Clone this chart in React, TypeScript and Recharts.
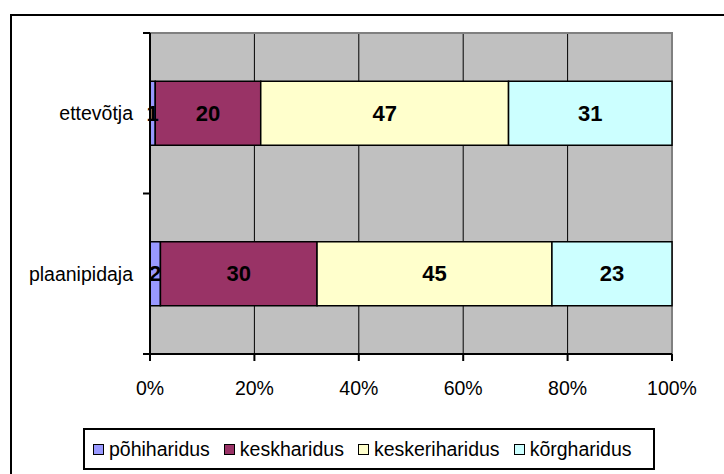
import React from 'react';
import {
  BarChart,
  Bar,
  XAxis,
  YAxis,
  CartesianGrid,
  Legend,
  LabelList,
  ReferenceArea,
} from 'recharts';

const categories = ['ettevõtja', 'plaanipidaja'];
const pohiharidus = [1, 2];
const keskharidus = [20, 30];
const keskeriharidus = [47, 45];
const korgharidus = [31, 23];
const xTicks = [0, 0.2, 0.4, 0.6, 0.8, 1];

const SERIES = [
  { key: 'pohi', name: 'põhiharidus', color: '#9999FF' },
  { key: 'kesk', name: 'keskharidus', color: '#993366' },
  { key: 'kesker', name: 'keskeriharidus', color: '#FFFFCC' },
  { key: 'korg', name: 'kõrgharidus', color: '#CCFFFF' },
];

const data = categories.map((name, i) => ({
  name,
  pohi: pohiharidus[i],
  kesk: keskharidus[i],
  kesker: keskeriharidus[i],
  korg: korgharidus[i],
}));

const FONT = "'Liberation Sans', Arial, sans-serif";
const FONT_SIZE = 19.5;
const PLOT_TOP = 33;
const PLOT_BOTTOM = 354;
const BAND = (PLOT_BOTTOM - PLOT_TOP) / categories.length;
const TICK_SIZE = 7;
const TICK_MARGIN = 10;

// category labels sit mid-band, tick marks sit on the band edges (Excel style)
const CategoryTick = (props: any) => {
  const { x, y, payload, index, visibleTicksCount } = props;
  const ax = x + TICK_MARGIN + TICK_SIZE;
  const top = y - BAND / 2;
  const bottom = y + BAND / 2;
  return (
    <g>
      <line x1={ax - TICK_SIZE} x2={ax} y1={top} y2={top} stroke="#000" strokeWidth={2} />
      {index === visibleTicksCount - 1 && (
        <line x1={ax - TICK_SIZE} x2={ax} y1={bottom} y2={bottom} stroke="#000" strokeWidth={2} />
      )}
      <text
        x={x}
        y={y}
        textAnchor="end"
        dominantBaseline="central"
        fontSize={FONT_SIZE}
        fontFamily={FONT}
        fill="#000"
      >
        {payload.value}
      </text>
    </g>
  );
};

const LegendBox = (props: any) => {
  const payload: any[] = props.payload || [];
  // keep the series order, recharts sorts the payload by name
  const items = SERIES.map((s) => {
    const p = payload.find((it) => it.dataKey === s.key);
    return { value: p ? p.value : s.name, color: p ? p.color : s.color };
  });
  return (
    <div
      style={{
        boxSizing: 'border-box',
        width: 572,
        height: 42,
        border: '2px solid #000',
        background: '#fff',
        display: 'flex',
        alignItems: 'center',
        paddingLeft: 8,
        gap: 14,
        fontFamily: FONT,
        fontSize: FONT_SIZE,
        color: '#000',
        whiteSpace: 'nowrap',
      }}
    >
      {items.map((item) => (
        <div key={item.value} style={{ display: 'flex', alignItems: 'center', gap: 5, flexShrink: 0 }}>
          <span
            style={{
              display: 'inline-block',
              boxSizing: 'border-box',
              width: 11,
              height: 11,
              flexShrink: 0,
              background: item.color,
              border: '1.5px solid #000',
            }}
          />
          <span>{item.value}</span>
        </div>
      ))}
    </div>
  );
};

const App: React.FC = () => {
  return (
    <div
      style={{
        position: 'absolute',
        left: 0,
        top: 0,
        width: 724,
        height: 474,
        overflow: 'hidden',
        background: '#fff',
      }}
    >
      <div
        style={{
          position: 'absolute',
          left: 10,
          top: 14,
          width: 800,
          height: 600,
          border: '2px solid #000',
        }}
      />
      <div style={{ position: 'absolute', left: 0, top: 0 }}>
        <BarChart
          width={724}
          height={474}
          data={data}
          layout="vertical"
          stackOffset="expand"
          barCategoryGap="30%"
          margin={{ top: PLOT_TOP, right: 52, bottom: 70, left: 10 }}
        >
          <CartesianGrid horizontal={false} stroke="#000" strokeWidth={1} fill="#C0C0C0" />
          <ReferenceArea
            x1={0}
            x2={1}
            fill="none"
            stroke="#808080"
            strokeWidth={2}
            ifOverflow="visible"
          />
          <XAxis
            type="number"
            domain={[0, 1]}
            ticks={xTicks}
            tickFormatter={(v: number) => `${Math.round(v * 100)}%`}
            height={50}
            tickSize={7}
            tickMargin={20}
            axisLine={{ stroke: '#000', strokeWidth: 2 }}
            tickLine={{ stroke: '#000', strokeWidth: 2 }}
            tick={{ fill: '#000', fontSize: FONT_SIZE, fontFamily: FONT }}
          />
          <YAxis
            type="category"
            dataKey="name"
            width={140}
            tickSize={TICK_SIZE}
            tickMargin={TICK_MARGIN}
            tickLine={false}
            axisLine={{ stroke: '#000', strokeWidth: 2 }}
            tick={<CategoryTick />}
          />
          <Legend
            layout="horizontal"
            verticalAlign="middle"
            align="center"
            content={<LegendBox />}
            wrapperStyle={{ left: 83, top: 428, width: 572, height: 42 }}
          />
          {SERIES.map((s) => (
            <Bar
              key={s.key}
              dataKey={s.key}
              name={s.name}
              stackId="a"
              fill={s.color}
              stroke="#000"
              strokeWidth={1.5}
              isAnimationActive={false}
            >
              <LabelList
                dataKey={s.key}
                position="center"
                fill="#000"
                fontSize={22}
                fontWeight="bold"
                fontFamily={FONT}
              />
            </Bar>
          ))}
        </BarChart>
      </div>
    </div>
  );
};

export default App;
